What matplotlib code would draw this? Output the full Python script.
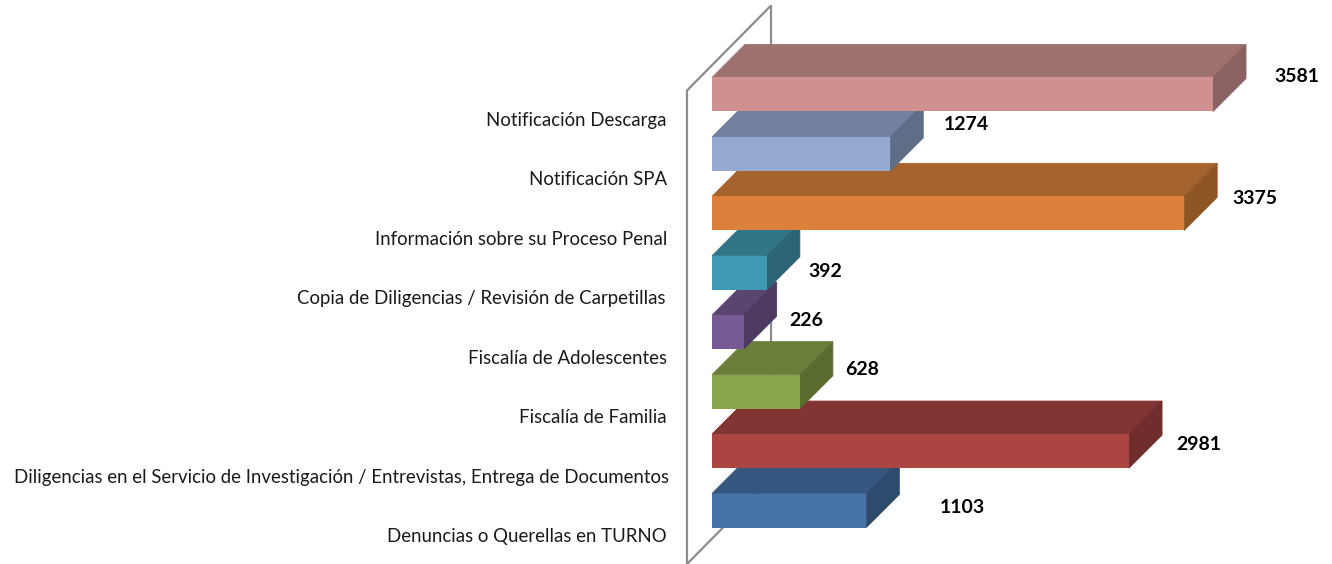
import matplotlib
matplotlib.use('Agg')
import matplotlib.pyplot as plt

plt.rcParams['font.family'] = 'Lato'

# data, bottom bar first
categories = ['Denuncias o Querellas en TURNO',
              'Diligencias en el Servicio de Investigación / Entrevistas, Entrega de Documentos',
              'Fiscalía de Familia',
              'Fiscalía de Adolescentes',
              'Copia de Diligencias / Revisión de Carpetillas',
              'Información sobre su Proceso Penal',
              'Notificación SPA',
              'Notificación Descarga']
values = [1103, 2981, 628, 226, 392, 3375, 1274, 3581]

# colours of each bar: front, top, side
front_colors = ['#4572A7', '#AB4542', '#8AA64C', '#775993', '#4099B5', '#DB813C', '#95A9D1', '#D09090']
top_colors = ['#35567E', '#823432', '#6B7E3A', '#5A4470', '#317588', '#A6632E', '#70809E', '#9E7070']
side_colors = ['#2E4A6D', '#6F2D2B', '#5B6C31', '#4D3A60', '#2A6475', '#8E5627', '#5F6E87', '#8A6262']

# where the value labels sit, pixels away from the bar end
label_dx = [96, 70, 62, 63, 58, 71, 76, 84]
label_dy = [3, 7, 22, 12, 1, 15, 29, 18]
# small nudge of the category labels
cat_dx = [0, 2, 0, 0, -1, 0, 0, 0]

# scales of the picture
px_per_value = 0.1399
px_per_cat = 59.43
depth_x = 33 / px_per_value
depth_y = 33 / px_per_cat
half_h = 17 / px_per_cat

fig = plt.figure(figsize=(13.32, 5.64), dpi=100)
ax = fig.add_axes([0, 0, 1, 1])
ax.set_xlim(-712 / px_per_value, 620 / px_per_value)
ax.set_ylim(-53.5 / px_per_cat, 510.5 / px_per_cat)
ax.axis('off')

# back wall lines
wall_x = -25 / px_per_value
wall_back = wall_x + 84 / px_per_value
wall_drop = 85 / px_per_cat
wall_front_top = 420 / px_per_cat
wall_bottom = -53.5 / px_per_cat
wall_color = '#8C8C8C'
ax.plot([wall_back, wall_back, wall_x, wall_x, wall_back],
        [wall_bottom + wall_drop, wall_front_top + wall_drop, wall_front_top, wall_bottom, wall_bottom + wall_drop],
        color=wall_color, lw=1.6, zorder=1, solid_joinstyle='miter')

# lower bars first, the upper ones cover their tops
for i in range(len(values)):
    v = values[i]
    z = 2 + i
    ax.barh(i, v, height=2 * half_h, color=front_colors[i], linewidth=0, zorder=z + 0.2)
    # thin edge in the same colour closes the seams between the faces
    ax.fill([0, v, v + depth_x, depth_x],
            [i + half_h, i + half_h, i + half_h + depth_y, i + half_h + depth_y],
            facecolor=top_colors[i], edgecolor=top_colors[i], linewidth=0.6, zorder=z)
    ax.fill([v, v + depth_x, v + depth_x, v],
            [i - half_h, i - half_h + depth_y, i + half_h + depth_y, i + half_h],
            facecolor=side_colors[i], edgecolor=side_colors[i], linewidth=0.6, zorder=z + 0.1)

    ax.annotate(str(v), xy=(v, i), xytext=(label_dx[i], label_dy[i]), textcoords='offset pixels',
                ha='center', va='center', fontsize=14, fontweight='bold', color='black', zorder=20)
    ax.annotate(categories[i], xy=(0, i), xytext=(-45 + cat_dx[i], -26), textcoords='offset pixels',
                ha='right', va='center', fontsize=13.45, color='#1a1a1a', zorder=20)

fig.savefig('out.png', dpi=100, facecolor='white')
